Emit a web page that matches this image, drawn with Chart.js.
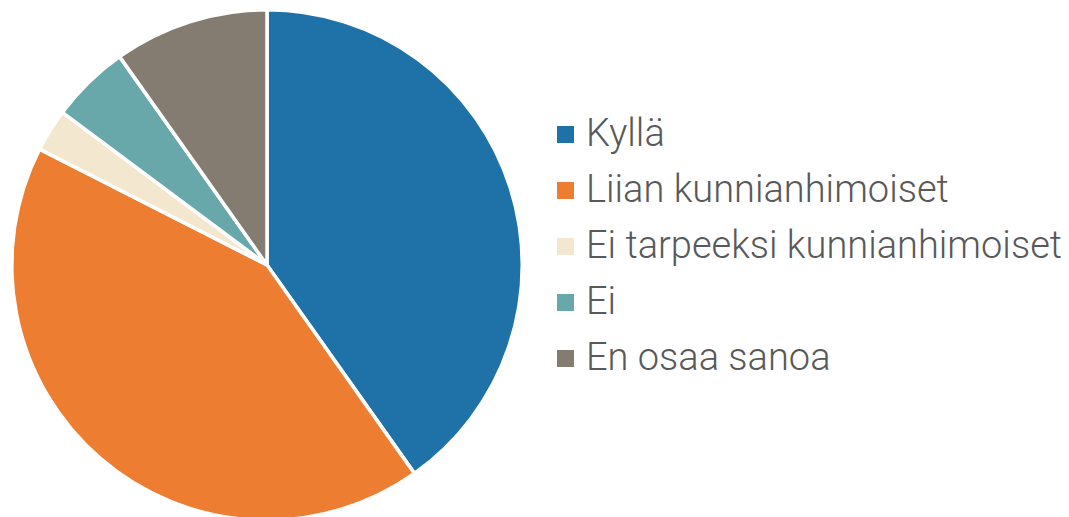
<!DOCTYPE html>
<html><head><meta charset="utf-8">
<script src="https://cdn.jsdelivr.net/npm/chart.js@4"></script>
<style>
html,body{margin:0;padding:0;background:#fff;overflow:hidden;width:1069px;height:517px}
#wrap{position:absolute;left:0;top:0;width:534px;height:530px}
#legend{position:absolute;left:557px;top:110px;font-family:Roboto,"Noto Sans",sans-serif;font-weight:300;font-size:38px;color:#595959}
#legend .it{height:56px;display:flex;align-items:flex-start;white-space:nowrap}
#legend .sw{width:17px;height:17px;margin-top:16px;margin-right:12px;flex:none}
#legend .tx{line-height:46px}
</style></head><body>
<div id="wrap"><canvas id="c"></canvas></div>
<div id="legend"></div>
<script>
const categories = ["Kyllä","Liian kunnianhimoiset","Ei tarpeeksi kunnianhimoiset","Ei","En osaa sanoa"];
const values = [40.2, 42.3, 2.7, 5.0, 9.8];
const colors = ["#1f72a8","#ed7d31","#f3e8cf","#68a7aa","#847c70"];

const chart = new Chart(document.getElementById('c'), {
  type: 'pie',
  data: { labels: categories, datasets: [{ data: values, backgroundColor: colors, borderColor: '#ffffff', borderWidth: 3.5 }] },
  options: {
    responsive: true, maintainAspectRatio: false, animation: false,
    layout: { padding: 8 },
    plugins: { legend: { display: false }, tooltip: { enabled: false } }
  }
});
const lg = document.getElementById('legend');
categories.forEach((c,i)=>{
  const d=document.createElement('div'); d.className='it';
  d.innerHTML='<span class="sw" style="background:'+colors[i]+'"></span><span class="tx">'+c+'</span>';
  lg.appendChild(d);
});
</script>
</body></html>
